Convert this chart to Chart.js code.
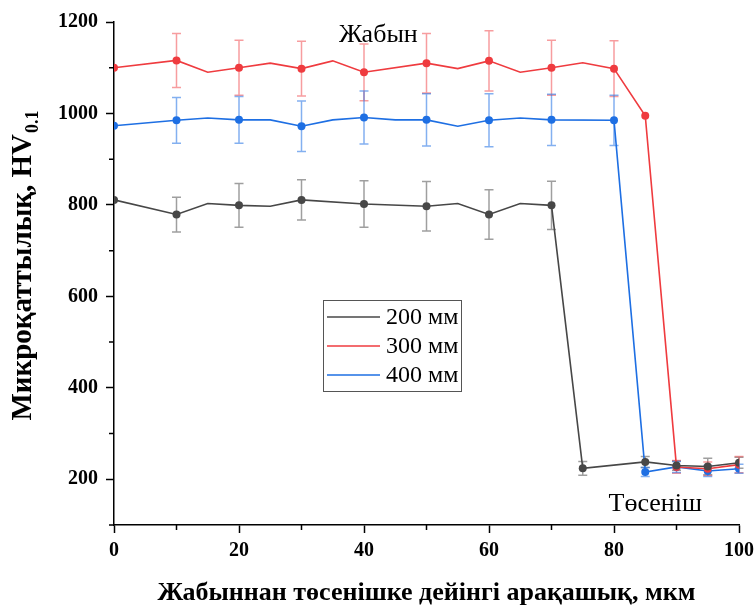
<!DOCTYPE html>
<html>
  <head>
    <script src="https://cdn.jsdelivr.net/npm/chart.js@4.4.0/dist/chart.umd.min.js"></script>
    <style>
      body { margin: 0; background: #fff; }
      #wrap { width: 755px; height: 606px; }
    </style>
  </head>

  <body>
    <div id="wrap">
      <canvas id="canvas"></canvas>
    </div>
    <script>
      // values (distance in мкм, microhardness HV0.1, error = ± value)
      const x200 = [0, 10, 15, 20, 25, 30, 40, 50, 55, 60, 65, 70, 75, 85, 90, 95, 100];
      const y200 = [811, 779, 803, 799, 797, 811, 802, 797, 803, 779, 803, 799, 224, 238, 230, 228, 236];
      const e200 = [null, 38, null, 48, null, 44, 51, 54, null, 54, null, 53, 15, 12, 10, 18, 12];

      const x300 = [0, 10, 15, 20, 25, 30, 35, 40, 50, 55, 60, 65, 70, 75, 80, 85, 90, 95, 100];
      const y300 = [1100, 1116, 1090, 1100, 1110, 1098, 1115, 1090, 1110, 1098, 1115, 1090, 1100, 1111, 1098, 995, 227, 223, 232];
      const e300 = [null, 59, null, 60, null, 60, null, 62, 65, null, 66, null, 60, null, 61, null, 14, 15, 18];

      const x400 = [0, 10, 15, 20, 25, 30, 35, 40, 45, 50, 55, 60, 65, 70, 80, 85, 90, 95, 100];
      const y400 = [973, 985, 990, 986, 986, 972, 986, 991, 986, 986, 972, 985, 990, 986, 985, 216, 227, 218, 223];
      const e400 = [null, 50, null, 51, null, 55, null, 58, null, 57, null, 58, null, 56, 55, 10, 12, 12, 10];

      const labels = ['200 мм', '300 мм', '400 мм'];
      const xTicks = [0, 20, 40, 60, 80, 100];
      const yTicks = [200, 400, 600, 800, 1000, 1200];

      const serif = '"Liberation Serif", "Times New Roman", serif';

      function pts(xs, ys) {
        return xs.map((x, i) => ({ x: x, y: ys[i] }));
      }

      function makeSet(label, xs, ys, errs, color, errColor) {
        return {
          label: label,
          data: pts(xs, ys),
          errors: errs,
          errColor: errColor,
          borderColor: color,
          backgroundColor: color,
          borderWidth: 1.6,
          tension: 0,
          pointRadius: (ctx) => {
            const p = ctx.raw;
            if (!p) return 0;
            return (p.x % 10 === 0 || p.x === 85 || errs[ctx.dataIndex] != null) ? 4 : 0;
          },
          pointHoverRadius: 4,
          pointBorderWidth: 0,
        };
      }

      // error bars, drawn under the lines/markers
      const errorBars = {
        id: 'errorBars',
        beforeDatasetsDraw(chart) {
          const { ctx, scales: { x, y } } = chart;
          ctx.save();
          chart.data.datasets.forEach((ds) => {
            ctx.strokeStyle = ds.errColor;
            ctx.lineWidth = 1.5;
            ds.data.forEach((p, i) => {
              const e = ds.errors[i];
              if (e == null) return;
              const px = x.getPixelForValue(p.x);
              const top = y.getPixelForValue(p.y + e);
              const bot = y.getPixelForValue(p.y - e);
              ctx.beginPath();
              ctx.moveTo(px, top); ctx.lineTo(px, bot);
              ctx.moveTo(px - 4.5, top); ctx.lineTo(px + 4.5, top);
              ctx.moveTo(px - 4.5, bot); ctx.lineTo(px + 4.5, bot);
              ctx.stroke();
            });
          });
          ctx.restore();
        },
      };

      // minor ticks, titles, labels and the boxed legend
      const extras = {
        id: 'extras',
        afterDraw(chart) {
          const { ctx, chartArea: a, scales: { x, y } } = chart;
          ctx.save();
          ctx.strokeStyle = '#000';
          ctx.lineWidth = 1.5;
          ctx.beginPath();
          x.ticks.forEach((t) => {
            if (t.value % 20 !== 0) {
              const px = x.getPixelForValue(t.value);
              ctx.moveTo(px, a.bottom); ctx.lineTo(px, a.bottom + 5);
            }
          });
          y.ticks.forEach((t) => {
            if (t.value % 200 !== 0) {
              const py = y.getPixelForValue(t.value);
              ctx.moveTo(a.left, py); ctx.lineTo(a.left - 5, py);
            }
          });
          ctx.stroke();

          // y title with subscript
          ctx.fillStyle = '#000';
          ctx.translate(24, 266);
          ctx.rotate(-Math.PI / 2);
          const main = 'Микроқаттылық, HV';
          const sub = '0.1';
          ctx.font = 'bold 29px ' + serif;
          const w1 = ctx.measureText(main).width;
          ctx.font = 'bold 18px ' + serif;
          const w2 = ctx.measureText(sub).width;
          const start = -(w1 + w2) / 2;
          ctx.textBaseline = 'middle';
          ctx.textAlign = 'left';
          ctx.font = 'bold 29px ' + serif;
          ctx.fillText(main, start, 0);
          ctx.font = 'bold 18px ' + serif;
          ctx.fillText(sub, start + w1 + 1, 9);
          ctx.setTransform(1, 0, 0, 1, 0, 0);

          // region labels
          ctx.font = '26px ' + serif;
          ctx.textAlign = 'center';
          ctx.textBaseline = 'middle';
          ctx.fillText('Жабын', x.getPixelForValue(42.3), y.getPixelForValue(1172));
          ctx.fillText('Төсеніш', x.getPixelForValue(86.6), y.getPixelForValue(146));

          // legend box
          const lx = a.left + 209, ly = a.top + 278, lw = 138, lh = 91;
          ctx.strokeStyle = '#555';
          ctx.lineWidth = 1;
          ctx.strokeRect(lx + 0.5, ly + 0.5, lw, lh);
          ctx.textAlign = 'left';
          ctx.font = '24px ' + serif;
          chart.data.datasets.forEach((ds, i) => {
            const ry = ly + 17 + i * 29;
            ctx.strokeStyle = ds.borderColor;
            ctx.lineWidth = 1.5;
            ctx.beginPath();
            ctx.moveTo(lx + 4, ry); ctx.lineTo(lx + 57, ry);
            ctx.stroke();
            ctx.fillStyle = '#000';
            ctx.fillText(ds.label, lx + 63, ry + 1);
          });
          ctx.restore();
        },
      };

      new Chart(document.getElementById('canvas').getContext('2d'), {
        type: 'line',
        data: {
          datasets: [
            makeSet(labels[0], x200, y200, e200, '#474747', 'rgba(80,80,80,0.55)'),
            makeSet(labels[1], x300, y300, e300, '#ef3b3f', 'rgba(239,59,63,0.5)'),
            makeSet(labels[2], x400, y400, e400, '#1e6fe3', 'rgba(30,111,227,0.55)'),
          ],
        },
        options: {
          responsive: true,
          maintainAspectRatio: false,
          animation: false,
          layout: { padding: { left: 0, right: 16, top: 22, bottom: 0 } },
          plugins: {
            legend: { display: false },
            tooltip: { enabled: false },
          },
          scales: {
            x: {
              type: 'linear',
              min: 0,
              max: 100,
              afterFit: (s) => { s.height = 81; s.paddingRight = 0; s.paddingLeft = 0; },
              border: { display: true, color: '#000', width: 1.5 },
              grid: {
                drawOnChartArea: false,
                tickLength: 8,
                tickWidth: 1.5,
                tickColor: (ctx) => (ctx.tick && ctx.tick.value % 20 === 0 ? '#000' : 'rgba(0,0,0,0)'),
              },
              ticks: {
                stepSize: 10,
                padding: 6,
                color: '#000',
                font: { family: serif, size: 20, weight: 'bold' },
                callback: (v) => (xTicks.includes(v) ? v : ''),
                maxRotation: 0,
                autoSkip: false,
              },
              title: {
                display: true,
                text: 'Жабыннан төсенішке дейінгі арақашық, мкм',
                color: '#000',
                font: { family: serif, size: 26, weight: 'bold', lineHeight: 1.0 },
                padding: { top: 0, bottom: 0 },
              },
            },
            y: {
              min: 100,
              max: 1200,
              afterFit: (s) => { s.width = 114; },
              border: { display: true, color: '#000', width: 1.5 },
              grid: {
                drawOnChartArea: false,
                tickLength: 8,
                tickWidth: 1.5,
                tickColor: (ctx) => (ctx.tick && ctx.tick.value % 200 === 0 ? '#000' : 'rgba(0,0,0,0)'),
              },
              ticks: {
                stepSize: 100,
                padding: 8,
                color: '#000',
                font: { family: serif, size: 20, weight: 'bold' },
                callback: (v) => (yTicks.includes(v) ? v : ''),
                autoSkip: false,
              },
            },
          },
        },
        plugins: [errorBars, extras],
      });
    </script>
  </body>
</html>
